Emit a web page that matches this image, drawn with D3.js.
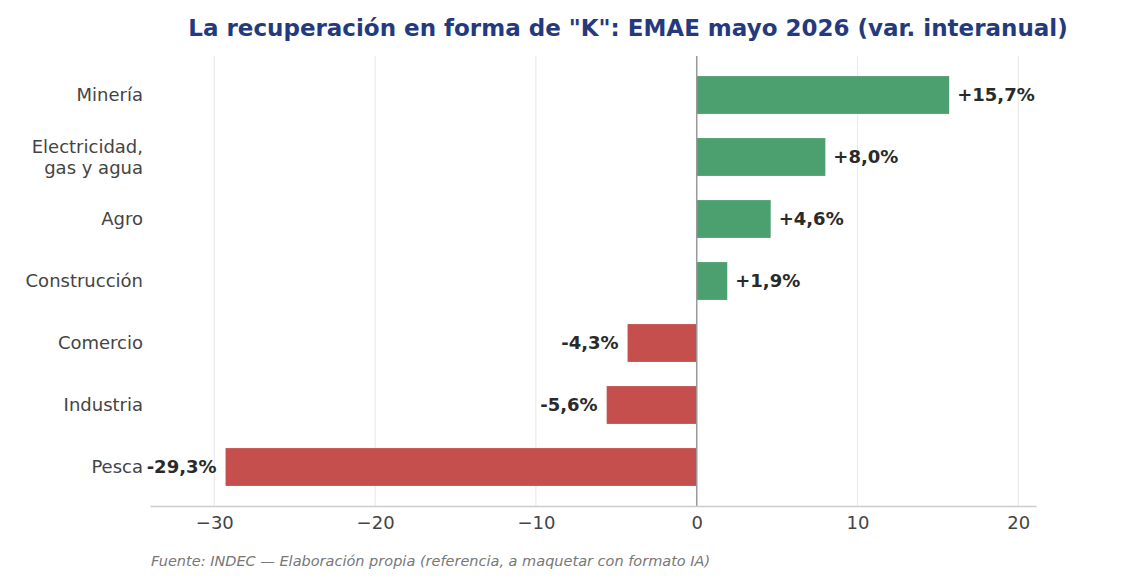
<!DOCTYPE html>
<html><head><meta charset="utf-8">
<script src="https://cdn.jsdelivr.net/npm/d3@7"></script>
<style>body{margin:0;background:#fff;font-family:"DejaVu Sans",sans-serif}</style>
</head><body><svg id="chart" width="1122" height="583"></svg>
<script>
const sectors = ["Minería", "Electricidad,\ngas y agua", "Agro", "Construcción", "Comercio", "Industria", "Pesca"];
const changes = [15.7, 8.0, 4.6, 1.9, -4.3, -5.6, -29.3];
const xTicks = [-30, -20, -10, 0, 10, 20];

const svg = d3.select("#chart");
const x = d3.scaleLinear().domain([-34.0, 21.1]).range([150, 1036]);
const y = d3.scaleBand().domain(sectors).range([64, 498]).paddingInner(0.39).paddingOuter(0.195);

// grid
svg.append("g").selectAll("line").data(xTicks).join("line")
  .attr("x1", d => x(d)).attr("x2", d => x(d)).attr("y1", 56).attr("y2", 506)
  .attr("stroke", "#ebebeb").attr("stroke-width", 1.2);

// bars
svg.append("g").selectAll("rect").data(changes).join("rect")
  .attr("x", d => x(Math.min(0, d))).attr("width", d => Math.abs(x(d) - x(0)))
  .attr("y", (d, i) => y(sectors[i])).attr("height", y.bandwidth())
  .attr("fill", d => d >= 0 ? "#4c9f6e" : "#c44f4c");

// zero line
svg.append("line").attr("x1", x(0)).attr("x2", x(0)).attr("y1", 56).attr("y2", 506)
  .attr("stroke", "#999").attr("stroke-width", 1.5);

// value labels
const fmt = d => (d > 0 ? "+" : "") + d.toFixed(1).replace(".", ",") + "%";
svg.append("g").selectAll("text").data(changes).join("text")
  .attr("x", d => d >= 0 ? x(d) + 8 : x(d) - 9)
  .attr("y", (d, i) => y(sectors[i]) + y.bandwidth() / 2)
  .attr("dy", "0.35em").attr("text-anchor", d => d >= 0 ? "start" : "end")
  .attr("font-size", 18).attr("font-weight", "bold").attr("fill", "#2a2a2a")
  .text(fmt);

// x axis
const xAxis = svg.append("g").attr("transform", "translate(0,506)")
  .call(d3.axisBottom(x).tickValues(xTicks).tickSize(0).tickPadding(10).tickFormat(d => d < 0 ? "\u2212" + Math.abs(d) : d));
xAxis.select(".domain").attr("stroke", "#ccc").attr("stroke-width", 1.5);
xAxis.selectAll("text").attr("font-size", 18).attr("fill", "#444").attr("font-family", "DejaVu Sans");

// y labels
const yl = svg.append("g").selectAll("text").data(sectors).join("text")
  .attr("text-anchor", "end").attr("font-size", 18).attr("fill", "#444")
  .attr("transform", d => `translate(143,${y(d) + y.bandwidth() / 2})`);
yl.each(function (d) {
  const lines = d.split("\n");
  d3.select(this).selectAll("tspan").data(lines).join("tspan")
    .attr("x", 0).attr("y", (l, i) => (i - (lines.length - 1) / 2) * 21)
    .attr("dy", "0.35em").text(l => l);
});

svg.append("text").attr("x", 628).attr("y", 36).attr("text-anchor", "middle")
  .attr("font-size", 23).attr("font-weight", "bold").attr("fill", "#253a7d")
  .text('La recuperación en forma de "K": EMAE mayo 2026 (var. interanual)');

svg.append("text").attr("x", 151).attr("y", 566).attr("font-size", 14.5)
  .attr("font-style", "italic").attr("fill", "#777")
  .text("Fuente: INDEC — Elaboración propia (referencia, a maquetar con formato IA)");
</script></body></html>
